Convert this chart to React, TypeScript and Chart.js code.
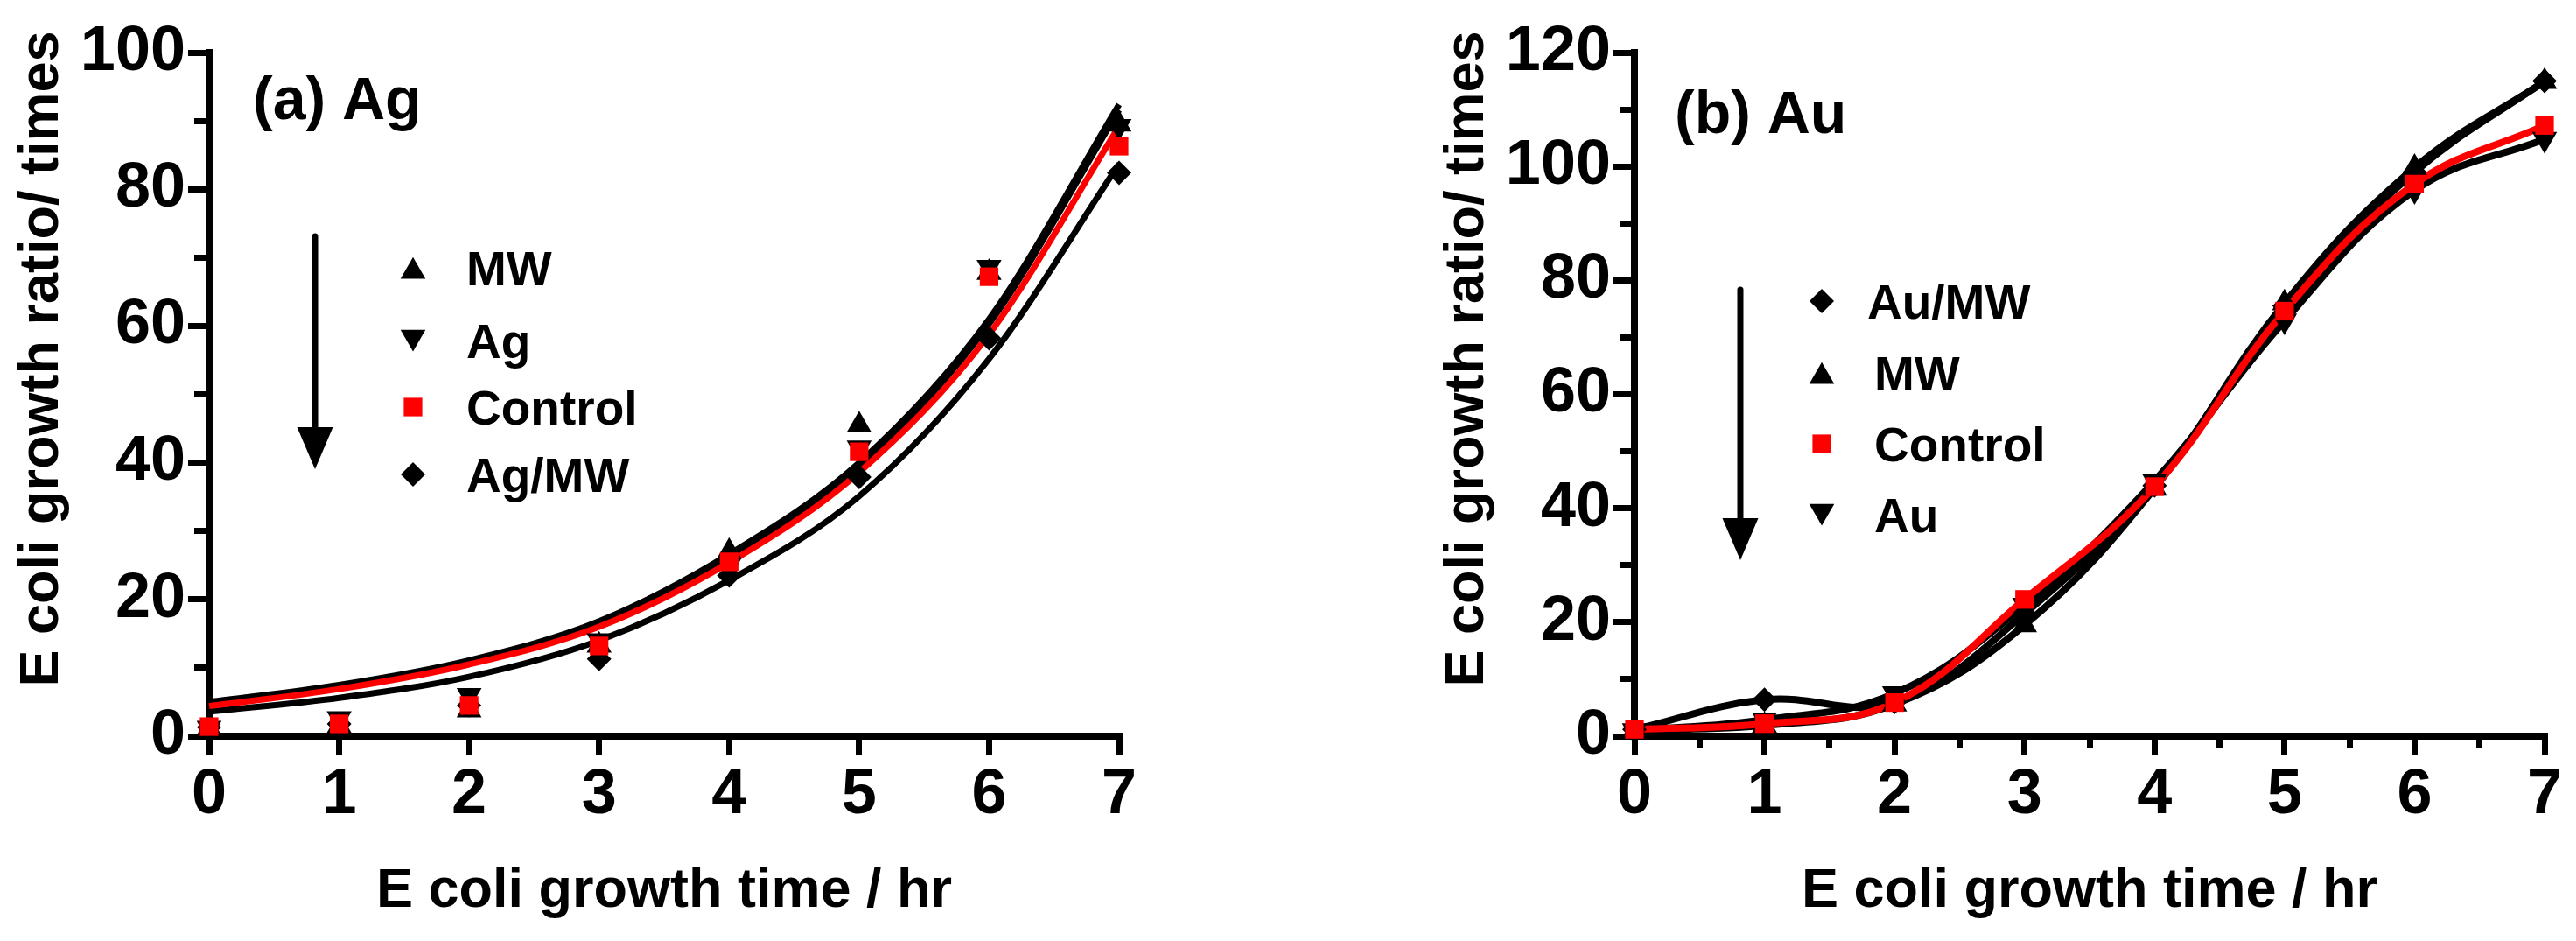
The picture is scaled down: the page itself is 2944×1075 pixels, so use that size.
import React, { useEffect, useRef } from 'react';
import { Chart, registerables } from 'chart.js';

Chart.register(...registerables);

const FONT = '"Liberation Sans", Arial, Helvetica, sans-serif';

// ---------------- data ----------------
const hours = [0, 1, 2, 3, 4, 5, 6, 7];
const xTickLabels = [0, 1, 2, 3, 4, 5, 6, 7];
const agYTickLabels = [0, 20, 40, 60, 80, 100];
const auYTickLabels = [0, 20, 40, 60, 80, 100, 120];

// (a) Ag – measured growth ratios
const agPanelMW = [1.2, 1.5, 3.8, 13.3, 27.0, 45.5, 67.8, 89.5];
const agPanelAg = [1.2, 2.6, 6.0, 14.0, 25.0, 42.2, 68.6, 89.2];
const agPanelControl = [1.4, 1.8, 4.5, 13.2, 25.5, 41.6, 67.2, 86.3];
const agPanelAgMW = [1.3, 1.8, 4.5, 11.3, 23.5, 37.9, 58.2, 82.4];

// (a) Ag – fitted growth curves at each hour
const agFitMW = [5.0, 7.5, 11.1, 16.8, 26.6, 40.0, 61.0, 92.4];
const agFitAg = [4.8, 7.3, 10.9, 16.5, 26.2, 39.5, 60.3, 91.6];
const agFitControl = [4.4, 6.9, 10.5, 16.0, 25.4, 38.6, 58.8, 89.2];
const agFitAgMW = [3.6, 5.6, 8.7, 14.0, 22.8, 35.1, 55.2, 83.7];

// (b) Au – measured growth ratios
const auPanelAuMW = [1.2, 6.4, 6.0, 21.5, 44.0, 75.5, 99.0, 115.0];
const auPanelMW = [1.0, 1.9, 5.6, 19.5, 43.5, 76.0, 99.8, 114.9];
const auPanelControl = [1.2, 2.2, 5.9, 24.0, 43.8, 74.6, 96.9, 107.2];
const auPanelAu = [1.0, 2.9, 7.5, 23.0, 44.8, 72.9, 95.8, 104.8];

// ---------------- styles ----------------
const RED = '#ff0000';
const BLACK = '#000000';
const MARKERS: Record<string, { style: string; rotation: number; radius: number }> = {
  up: { style: 'triangle', rotation: 0, radius: 16.5 },
  down: { style: 'triangle', rotation: 180, radius: 16.5 },
  square: { style: 'rect', rotation: 0, radius: 15 },
  diamond: { style: 'rectRot', rotation: 0, radius: 14 },
};

const CANVAS_W = 1315;
const CANVAS_H = 1075;

function pts(ys: number[]) {
  return hours.map((x, i) => ({ x, y: ys[i] }));
}

function pointSet(label: string, ys: number[], marker: string, color: string) {
  const m = MARKERS[marker];
  return {
    label,
    data: pts(ys),
    showLine: false,
    pointStyle: m.style,
    pointRotation: m.rotation,
    pointRadius: m.radius,
    pointHoverRadius: m.radius,
    pointBackgroundColor: color,
    pointBorderColor: color,
    pointBorderWidth: 0,
    clip: false,
  };
}

function lineSet(label: string, ys: number[], color: string, width: number, monotone: boolean) {
  const base: any = {
    label,
    data: pts(ys),
    showLine: true,
    borderColor: color,
    backgroundColor: color,
    borderWidth: width,
    pointRadius: 0,
    pointHoverRadius: 0,
    fill: false,
    clip: false,
  };
  if (monotone) base.cubicInterpolationMode = 'monotone';
  else base.tension = 0.4;
  return base;
}

function drawMarker(ctx: CanvasRenderingContext2D, style: string, rotation: number, r: number, color: string, x: number, y: number) {
  ctx.save();
  ctx.fillStyle = color;
  ctx.beginPath();
  if (style === 'triangle') {
    let rad = (rotation * Math.PI) / 180;
    const cy = rotation === 0 ? y + r / 4 : y - r / 4;
    for (let k = 0; k < 3; k++) {
      const px = x + Math.sin(rad) * r;
      const py = cy - Math.cos(rad) * r;
      if (k === 0) ctx.moveTo(px, py);
      else ctx.lineTo(px, py);
      rad += (2 * Math.PI) / 3;
    }
  } else if (style === 'rect') {
    const s = r * Math.SQRT1_2;
    ctx.rect(x - s, y - s, 2 * s, 2 * s);
  } else {
    ctx.moveTo(x - r, y);
    ctx.lineTo(x, y - r);
    ctx.lineTo(x + r, y);
    ctx.lineTo(x, y + r);
  }
  ctx.closePath();
  ctx.fill();
  ctx.restore();
}

const decorPlugin = {
  id: 'decor',
  afterDraw(chart: any, _args: any, o: any) {
    const ctx: CanvasRenderingContext2D = chart.ctx;
    ctx.save();
    ctx.fillStyle = BLACK;

    // y-axis title
    ctx.save();
    ctx.font = `bold ${o.yTitleSize}px ${FONT}`;
    ctx.translate(o.yTitleX, o.yTitleY);
    ctx.rotate(-Math.PI / 2);
    ctx.textAlign = 'center';
    ctx.textBaseline = 'alphabetic';
    ctx.fillText(o.yTitle, 0, 0);
    ctx.restore();

    // panel label
    ctx.font = `bold ${o.labelSize}px ${FONT}`;
    ctx.textAlign = 'left';
    ctx.textBaseline = 'alphabetic';
    ctx.fillText(o.label, o.labelX, o.labelY);

    // arrow
    const a = o.arrow;
    ctx.strokeStyle = BLACK;
    ctx.lineWidth = a.width;
    ctx.lineCap = 'round';
    ctx.beginPath();
    ctx.moveTo(a.x, a.top);
    ctx.lineTo(a.x, a.tip - a.headH + 2);
    ctx.stroke();
    ctx.beginPath();
    ctx.moveTo(a.x - a.headW / 2, a.tip - a.headH);
    ctx.lineTo(a.x + a.headW / 2, a.tip - a.headH);
    ctx.lineTo(a.x, a.tip);
    ctx.closePath();
    ctx.fill();

    // legend
    o.legend.forEach((item: any, i: number) => {
      const ds = chart.data.datasets[item.dataset];
      const y = o.legendRows[i];
      drawMarker(ctx, ds.pointStyle, ds.pointRotation, ds.pointRadius, ds.pointBackgroundColor, o.markerX, y);
      ctx.fillStyle = BLACK;
      ctx.font = `bold ${o.legendSize}px ${FONT}`;
      ctx.textAlign = 'left';
      ctx.textBaseline = 'alphabetic';
      ctx.fillText(ds.label, o.textX + (item.dx || 0), y + o.legendSize * 0.36);
    });
    ctx.restore();
  },
};

function makeConfig(p: any): any {
  return {
    type: 'scatter',
    data: { datasets: p.datasets },
    options: {
      responsive: false,
      animation: false,
      devicePixelRatio: 1,
      events: [],
      layout: { padding: { left: 0, top: 60, right: 36, bottom: 0 } },
      plugins: {
        legend: { display: false },
        tooltip: { enabled: false },
        decor: p.decor,
      },
      scales: {
        x: {
          type: 'linear',
          min: 0,
          max: 7,
          afterFit: (s: any) => {
            s.height = 234;
          },
          border: { display: true, color: BLACK, width: 8 },
          grid: {
            display: true,
            drawOnChartArea: false,
            drawTicks: true,
            tickLength: 22,
            lineWidth: 7,
            tickWidth: 7,
            tickColor: BLACK,
            tickBorderDash: (c: any) =>
              c.tick && xTickLabels.includes(c.tick.value) ? [] : [10, 100],
          },
          ticks: {
            stepSize: p.xStep,
            autoSkip: false,
            maxRotation: 0,
            minRotation: 0,
            padding: 3,
            color: BLACK,
            font: { family: FONT, size: 72, weight: 'bold' },
            callback: (v: number) => (xTickLabels.includes(v) ? String(v) : ''),
          },
          title: {
            display: true,
            text: 'E coli growth time / hr',
            color: BLACK,
            font: { family: FONT, size: 63, weight: 'bold' },
            padding: { top: 0, bottom: 19 },
          },
        },
        y: {
          type: 'linear',
          min: 0,
          max: p.yMax,
          afterFit: (s: any) => {
            s.width = 239;
          },
          border: { display: true, color: BLACK, width: 8 },
          grid: {
            display: true,
            drawOnChartArea: false,
            drawTicks: true,
            tickLength: 24,
            lineWidth: 7,
            tickWidth: 7,
            tickColor: BLACK,
            tickBorderDash: (c: any) =>
              c.tick && p.yLabels.includes(c.tick.value) ? [] : [0, 7, 100, 0],
          },
          ticks: {
            stepSize: 10,
            autoSkip: false,
            padding: 3,
            color: BLACK,
            font: { family: FONT, size: 72, weight: 'bold' },
            callback: (v: number) => (p.yLabels.includes(v) ? String(v) : ''),
          },
          title: { display: false },
        },
      },
    },
    plugins: [decorPlugin],
  };
}

const Y_TITLE = 'E coli growth ratio/ times';

function agConfig() {
  return makeConfig({
    yMax: 100,
    xStep: 1,
    yLabels: agYTickLabels,
    datasets: [
      pointSet('Control', agPanelControl, 'square', RED),
      pointSet('MW', agPanelMW, 'up', BLACK),
      pointSet('Ag', agPanelAg, 'down', BLACK),
      pointSet('Ag/MW', agPanelAgMW, 'diamond', BLACK),
      lineSet('Control fit', agFitControl, RED, 7, true),
      lineSet('MW fit', agFitMW, BLACK, 7, true),
      lineSet('Ag fit', agFitAg, BLACK, 7, true),
      lineSet('Ag/MW fit', agFitAgMW, BLACK, 7, true),
    ],
    decor: {
      yTitle: Y_TITLE,
      yTitleSize: 63,
      yTitleX: 66,
      yTitleY: 410,
      label: '(a) Ag',
      labelSize: 68,
      labelX: 289,
      labelY: 136,
      arrow: { x: 360, top: 270, tip: 536, headH: 48, headW: 41, width: 7 },
      legendSize: 55,
      markerX: 472,
      textX: 533,
      legendRows: [306, 389, 465, 542],
      legend: [{ dataset: 1 }, { dataset: 2 }, { dataset: 0 }, { dataset: 3 }],
    },
  });
}

function auConfig() {
  return makeConfig({
    yMax: 120,
    xStep: 0.5,
    yLabels: auYTickLabels,
    datasets: [
      pointSet('Control', auPanelControl, 'square', RED),
      pointSet('Au/MW', auPanelAuMW, 'diamond', BLACK),
      pointSet('MW', auPanelMW, 'up', BLACK),
      pointSet('Au', auPanelAu, 'down', BLACK),
      lineSet('Control curve', auPanelControl, RED, 8, false),
      lineSet('Au/MW curve', auPanelAuMW, BLACK, 8, false),
      lineSet('MW curve', auPanelMW, BLACK, 8, false),
      lineSet('Au curve', auPanelAu, BLACK, 8, false),
    ],
    decor: {
      yTitle: Y_TITLE,
      yTitleSize: 63,
      yTitleX: 66,
      yTitleY: 410,
      label: '(b) Au',
      labelSize: 68,
      labelX: 285,
      labelY: 152,
      arrow: { x: 360, top: 331, tip: 640, headH: 48, headW: 41, width: 7 },
      legendSize: 55,
      markerX: 453,
      textX: 513,
      legendRows: [344, 426, 507, 588],
      legend: [{ dataset: 1, dx: -8 }, { dataset: 2 }, { dataset: 0 }, { dataset: 3 }],
    },
  });
}

function Panel({ makeCfg, left }: { makeCfg: () => any; left: number }) {
  const ref = useRef<HTMLCanvasElement | null>(null);
  useEffect(() => {
    if (!ref.current) return;
    const chart = new Chart(ref.current, makeCfg());
    return () => chart.destroy();
  }, [makeCfg]);
  return (
    <canvas
      ref={ref}
      width={CANVAS_W}
      height={CANVAS_H}
      style={{ position: 'absolute', left, top: 0, width: CANVAS_W, height: CANVAS_H }}
    />
  );
}

export default function App() {
  return (
    <div
      style={{
        position: 'absolute',
        left: 0,
        top: 0,
        width: 2944,
        height: 1075,
        background: '#ffffff',
        overflow: 'hidden',
      }}
    >
      <Panel makeCfg={agConfig} left={0} />
      <Panel makeCfg={auConfig} left={1629} />
    </div>
  );
}
